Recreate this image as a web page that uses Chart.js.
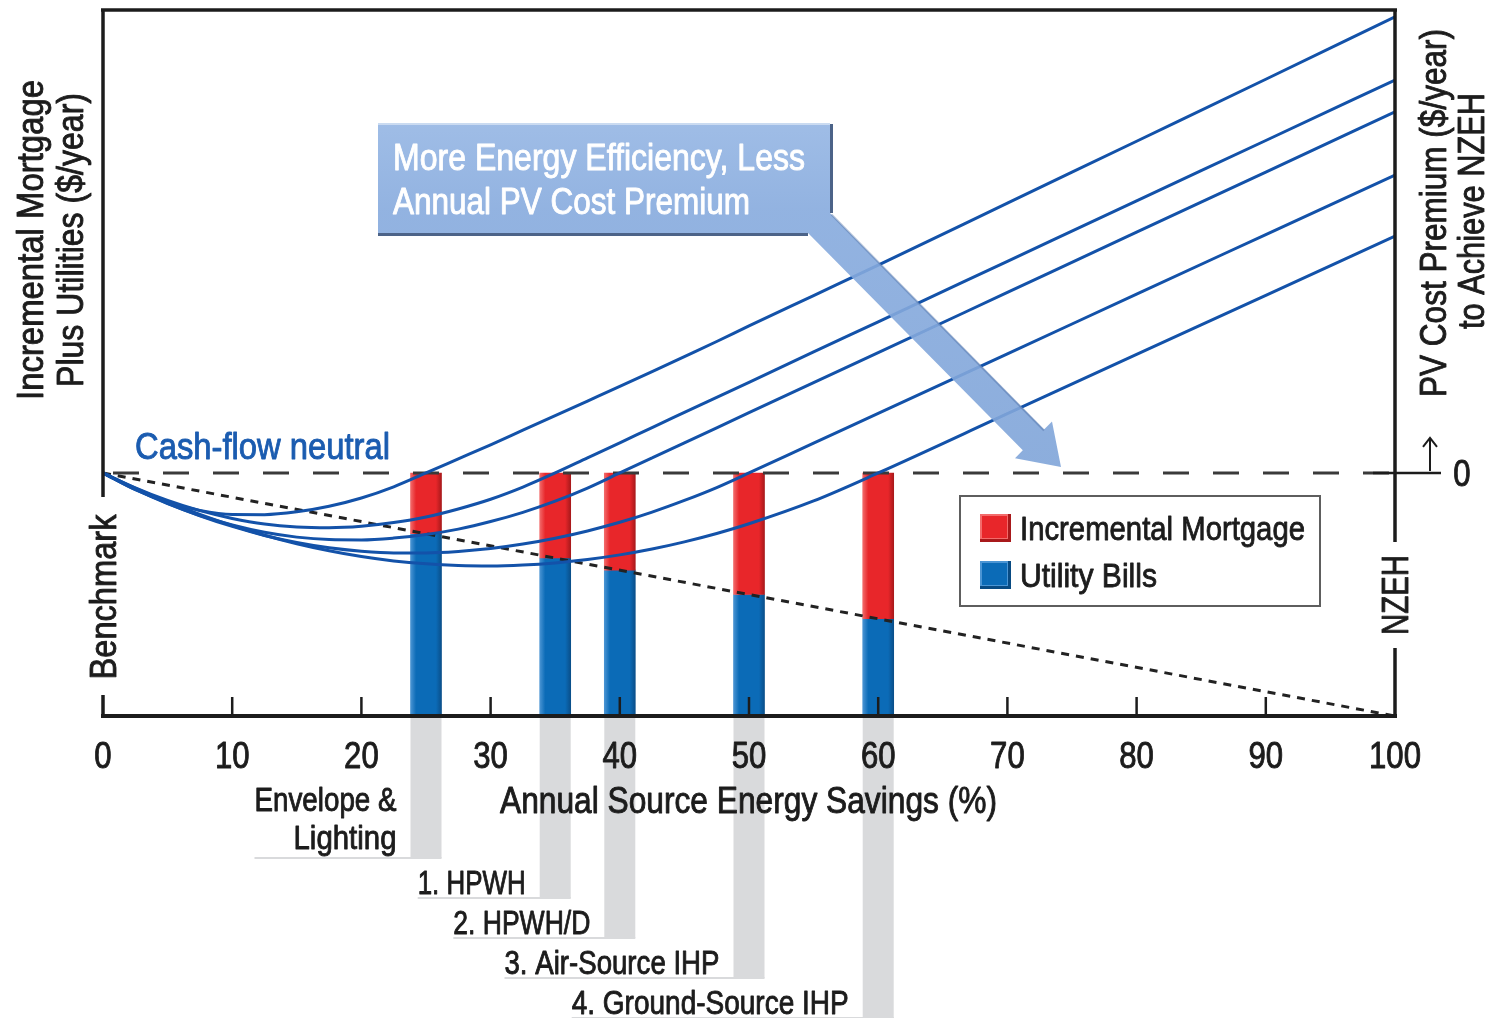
<!DOCTYPE html>
<html>
<head>
<meta charset="utf-8">
<script src="https://cdn.jsdelivr.net/npm/chart.js@4.4.1/dist/chart.umd.min.js"></script>
<style>
  html, body { margin: 0; padding: 0; background: #ffffff; }
  #wrap { width: 1494px; height: 1018px; position: relative; }
</style>
</head>
<body>
<div id="wrap"><canvas id="chart" width="1494" height="1018"></canvas></div>
<script>
// ---- data -----------------------------------------------------------------
// Annual source energy savings (%) reached by each efficiency package
const packageSavings = [25, 35, 40, 50, 60];
const packageNames = [['Envelope &', 'Lighting'], ['1. HPWH'], ['2. HPWH/D'], ['3. Air-Source IHP'], ['4. Ground-Source IHP']];
// Annual cost index (benchmark house = 100 = cash-flow neutral)
const cashFlowNeutral = 100;
const utilityBills = [75, 65, 60, 50, 40];
const incrementalMortgage = [25, 35, 40, 50, 60];
// Utility bill line from the benchmark to the NZEH
const utilitySavings = [0, 100];
const utilityCost = [100, 0];
// Mortgage + utilities (below 100) and PV cost premium (above 100) per package path
const curveSavings = [0, 2.5, 5, 7.5, 10, 12.5, 15, 17.5, 20, 22.5, 25, 27.5, 30, 32.5, 35, 37.5, 40, 42.5, 45, 47.5, 50, 55, 60, 70, 80, 90, 100];
const costEnvelope = [100, 93.1, 88.0, 84.6, 82.9, 82.85, 84.0, 86.3, 89.7, 94.3, 100, 105.8, 111.6, 117.6, 123.6, 129.6, 135.6, 141.7, 147.9, 154.1, 160.5, 173.0, 185.5, 211.0, 236.5, 262.0, 287.7];
const costHPWH = [100, 93.9, 88.7, 84.5, 81.3, 79.0, 77.8, 77.5, 78.1, 79.6, 81.9, 85.2, 89.2, 94.2, 100, 106.2, 112.4, 118.7, 124.9, 131.1, 137.3, 149.8, 162.2, 187.1, 212.0, 236.8, 261.7];
const costHPWHD = [100, 93.2, 87.4, 82.5, 78.6, 75.6, 73.6, 72.6, 72.46, 73.2, 74.65, 76.9, 80.0, 83.8, 88.4, 93.8, 100, 106.2, 112.4, 118.6, 124.8, 137.2, 149.5, 174.3, 199.1, 223.8, 248.6];
const costAirIHP = [100, 93.4, 87.5, 82.4, 78.0, 74.3, 71.4, 69.2, 67.8, 67.1, 67.1, 67.7, 68.9, 70.75, 73.15, 76.15, 79.7, 83.9, 88.7, 94.0, 100, 112.3, 124.5, 149.0, 173.6, 198.1, 222.6];
const costGroundIHP = [100, 93.8, 88.1, 83.0, 78.4, 74.4, 70.9, 68.0, 65.6, 63.8, 62.6, 61.9, 61.7, 62.1, 63.0, 64.4, 66.3, 68.7, 71.65, 75.1, 79.1, 88.5, 100, 124.4, 148.8, 173.1, 197.5];
const costCurves = [costEnvelope, costHPWH, costHPWHD, costAirIHP, costGroundIHP];
const xTicks = [0, 10, 20, 30, 40, 50, 60, 70, 80, 90, 100];

// ---- styling --------------------------------------------------------------
const FONT = '"Liberation Sans Narrow", "Liberation Sans", Arial, sans-serif';
const INK = '#1c1c1c';
const CURVE_BLUE = '#1352a9';
const BAR_W = 31;

function pts(xs, ys) { return xs.map((x, i) => ({ x: x, y: ys[i] })); }

function barFill(base, light, dark) {
  return (c) => {
    if (c.type !== 'data' || !c.raw) return base;
    const xs = c.chart.scales.x;
    if (!xs) return base;
    const cx = xs.getPixelForValue(c.raw.x);
    if (!Number.isFinite(cx)) return base;
    const g = c.chart.ctx.createLinearGradient(cx - BAR_W / 2, 0, cx + BAR_W / 2, 0);
    g.addColorStop(0, light);
    g.addColorStop(0.18, base);
    g.addColorStop(0.82, base);
    g.addColorStop(1, dark);
    return g;
  };
}

// draws text whose caps are vertically centred on y, squeezed to a width if given
function label(ctx, str, x, y, o) {
  o = o || {};
  const size = o.size || 34;
  ctx.save();
  ctx.font = (o.weight || 'normal') + ' ' + size + 'px ' + FONT;
  ctx.fillStyle = o.color || INK;
  ctx.strokeStyle = o.color || INK;
  ctx.lineWidth = 0.9;
  ctx.lineJoin = 'round';
  ctx.textBaseline = 'alphabetic';
  ctx.textAlign = 'left';
  const w = ctx.measureText(str).width;
  const sx = o.width ? o.width / w : (o.sx || 1);
  ctx.translate(x, y);
  if (o.rotate) ctx.rotate(o.rotate);
  ctx.scale(sx, 1);
  const align = o.align || 'left';
  const ox = align === 'left' ? 0 : (align === 'right' ? -w : -w / 2);
  ctx.fillText(str, ox, size * 0.36);
  ctx.strokeText(str, ox, size * 0.36);
  ctx.restore();
  return w * sx;
}

function line(ctx, x1, y1, x2, y2, color, width) {
  ctx.beginPath();
  ctx.moveTo(x1, y1);
  ctx.lineTo(x2, y2);
  ctx.strokeStyle = color;
  ctx.lineWidth = width;
  ctx.stroke();
}

const leaderWidths = [[142, 103], [108], [137], [215], [277]];

// gray leader bands under each package bar with their names
const leaderPlugin = {
  id: 'leaders',
  beforeDatasetsDraw(chart) {
    const ctx = chart.ctx, xs = chart.scales.x, area = chart.chartArea;
    ctx.save();
    packageSavings.forEach((s, i) => {
      const cx = xs.getPixelForValue(s);
      const bottom = 858 + 40 * i;
      ctx.fillStyle = '#d9dadc';
      ctx.fillRect(cx - BAR_W / 2, area.bottom + 2, BAR_W, bottom - area.bottom - 2);
      const names = packageNames[i];
      const right = cx - BAR_W / 2 - 14;
      const lastY = names.length > 1 ? bottom - 21 : bottom - 16;
      let left = right;
      names.forEach((n, k) => {
        const yc = lastY - (names.length - 1 - k) * 38;
        const tw = label(ctx, n, right, yc, { size: 33, align: 'right', width: leaderWidths[i][k] });
        left = Math.min(left, right - tw);
      });
      line(ctx, left, bottom, cx + BAR_W / 2, bottom, '#d9dadc', 2);
    });
    ctx.restore();
  }
};

// frame, axes, titles, callout and legend
const decorPlugin = {
  id: 'decor',
  afterDatasetsDraw(chart) {
    const ctx = chart.ctx, xs = chart.scales.x, ys = chart.scales.y, a = chart.chartArea;
    const yNeutral = ys.getPixelForValue(cashFlowNeutral);
    ctx.save();
    ctx.lineCap = 'butt';

    // frame
    line(ctx, a.left - 2, a.top, a.right + 2, a.top, INK, 3.5);
    line(ctx, a.left, a.top, a.left, 497, INK, 3.5);
    line(ctx, a.left, 695, a.left, a.bottom, INK, 3.5);
    line(ctx, a.right, a.top, a.right, 542, INK, 3.5);
    line(ctx, a.right, 648, a.right, a.bottom, INK, 3.5);
    line(ctx, a.left - 2, a.bottom, a.right + 2, a.bottom, INK, 4);

    // x ticks and labels
    ctx.font = '36px ' + FONT;
    const digitScale = 17.3 / ctx.measureText('0').width;
    xTicks.forEach(t => {
      const px = xs.getPixelForValue(t);
      if (t > 0 && t < 100) line(ctx, px, a.bottom - 19, px, a.bottom, INK, 2.5);
      label(ctx, String(t), px, 755, { size: 36, align: 'center', sx: digitScale });
    });
    label(ctx, 'Annual Source Energy Savings (%)', 500, 800, { size: 36, width: 497 });

    // right-hand zero marker
    line(ctx, a.right - 22, yNeutral, a.right + 46, yNeutral, INK, 2.5);
    line(ctx, a.right + 35, yNeutral - 2, a.right + 35, yNeutral - 34, INK, 2);
    ctx.beginPath();
    ctx.moveTo(a.right + 28, yNeutral - 26);
    ctx.lineTo(a.right + 35, yNeutral - 35);
    ctx.lineTo(a.right + 42, yNeutral - 26);
    ctx.strokeStyle = INK; ctx.lineWidth = 2; ctx.stroke();
    label(ctx, '0', 1462, yNeutral, { size: 36, align: 'center', sx: digitScale });

    // axis titles
    const up = -Math.PI / 2;
    label(ctx, 'Incremental Mortgage', 30, 240, { size: 36, align: 'center', rotate: up, width: 320 });
    label(ctx, 'Plus Utilities ($/year)', 70, 240, { size: 36, align: 'center', rotate: up, width: 294 });
    label(ctx, 'Benchmark', a.left, 597, { size: 36, align: 'center', rotate: up, width: 165 });
    label(ctx, 'PV Cost Premium ($/year)', 1433, 213, { size: 36, align: 'center', rotate: up, width: 368 });
    label(ctx, 'to Achieve NZEH', 1471, 211, { size: 36, align: 'center', rotate: up, width: 236 });
    label(ctx, 'NZEH', a.right, 595, { size: 36, align: 'center', rotate: up, width: 80 });

    label(ctx, 'Cash-flow neutral', 135, 446, { size: 36, color: '#1b5cb0', width: 255 });

    // callout box with its arrow
    ctx.save();
    ctx.globalAlpha = 0.9;
    const g = ctx.createLinearGradient(0, 123, 0, 467);
    g.addColorStop(0, '#95b6e4');
    g.addColorStop(0.25, '#87abde');
    g.addColorStop(1, '#80a5d9');
    ctx.beginPath();
    ctx.moveTo(378, 123);
    ctx.lineTo(830, 123);
    ctx.lineTo(830, 213);
    ctx.lineTo(1044, 429.5);
    ctx.lineTo(1052, 421.6);
    ctx.lineTo(1061, 467);
    ctx.lineTo(1015, 458.2);
    ctx.lineTo(1022.8, 450.3);
    ctx.lineTo(808, 233);
    ctx.lineTo(378, 233);
    ctx.closePath();
    ctx.fillStyle = g;
    ctx.fill();
    ctx.restore();
    line(ctx, 378, 234.5, 808, 234.5, 'rgba(45,72,115,0.85)', 3);
    line(ctx, 831.5, 124, 831.5, 213, 'rgba(45,72,115,0.85)', 3);
    line(ctx, 831.5, 214.5, 1044, 430.5, 'rgba(60,95,150,0.35)', 2);
    line(ctx, 378, 124, 830, 124, 'rgba(255,255,255,0.45)', 2);
    label(ctx, 'More Energy Efficiency, Less', 393, 157, { size: 36, color: '#ffffff', width: 412 });
    label(ctx, 'Annual PV Cost Premium', 393, 201, { size: 36, color: '#ffffff', width: 357 });

    // legend
    ctx.fillStyle = '#ffffff';
    ctx.fillRect(960, 496, 360, 110);
    ctx.strokeStyle = '#5e5e5e';
    ctx.lineWidth = 2;
    ctx.strokeRect(960, 496, 360, 110);
    const sw = [[528, '#e8262a', '#f36b6b', '#a8191b', 'Incremental Mortgage', 285],
                [575, '#0b6bb7', '#4b95d4', '#084a82', 'Utility Bills', 137]];
    sw.forEach(([yc, base, light, dark, txt, w]) => {
      ctx.fillStyle = dark;
      ctx.fillRect(980, yc - 14, 31, 28);
      ctx.fillStyle = light;
      ctx.fillRect(980, yc - 14, 28, 25);
      ctx.fillStyle = base;
      ctx.fillRect(982, yc - 12, 25, 22);
      label(ctx, txt, 1020, yc, { size: 34, width: w });
    });
    ctx.restore();
  }
};

const curveDatasets = costCurves.map(c => ({
  type: 'line',
  data: pts(curveSavings, c),
  borderColor: CURVE_BLUE,
  borderWidth: 3,
  pointRadius: 0,
  fill: false,
  cubicInterpolationMode: 'monotone',
  order: 1
}));

new Chart(document.getElementById('chart'), {
  type: 'line',
  data: {
    datasets: [
      ...curveDatasets,
      {
        type: 'line',
        data: pts([0, 100], [cashFlowNeutral, cashFlowNeutral]),
        borderColor: '#3a3a3a',
        borderWidth: 3,
        borderDash: [26, 24],
        borderDashOffset: -10,
        pointRadius: 0,
        order: 2
      },
      {
        type: 'line',
        data: pts(utilitySavings, utilityCost),
        borderColor: '#222222',
        borderWidth: 3,
        borderDash: [8, 7],
        pointRadius: 0,
        order: 2
      },
      {
        type: 'bar',
        label: 'Incremental Mortgage',
        data: packageSavings.map((s, i) => ({ x: s, y: [utilityBills[i], utilityBills[i] + incrementalMortgage[i]] })),
        backgroundColor: barFill('#e8262a', '#f26a6a', '#a9191b'),
        barThickness: BAR_W,
        grouped: false,
        order: 3
      },
      {
        type: 'bar',
        label: 'Utility Bills',
        data: packageSavings.map((s, i) => ({ x: s, y: [0, utilityBills[i]] })),
        backgroundColor: barFill('#0b6bb7', '#4a94d3', '#0a4f8a'),
        barThickness: BAR_W,
        grouped: false,
        order: 3
      }
    ]
  },
  options: {
    responsive: false,
    animation: false,
    devicePixelRatio: 1,
    layout: { padding: { left: 103, right: 99, top: 10, bottom: 302 } },
    scales: {
      x: { type: 'linear', min: 0, max: 100, offset: false, display: false },
      y: { type: 'linear', min: 0, max: 290.5, display: false }
    },
    plugins: { legend: { display: false }, tooltip: { enabled: false } }
  },
  plugins: [leaderPlugin, decorPlugin]
});
</script>
</body>
</html>
